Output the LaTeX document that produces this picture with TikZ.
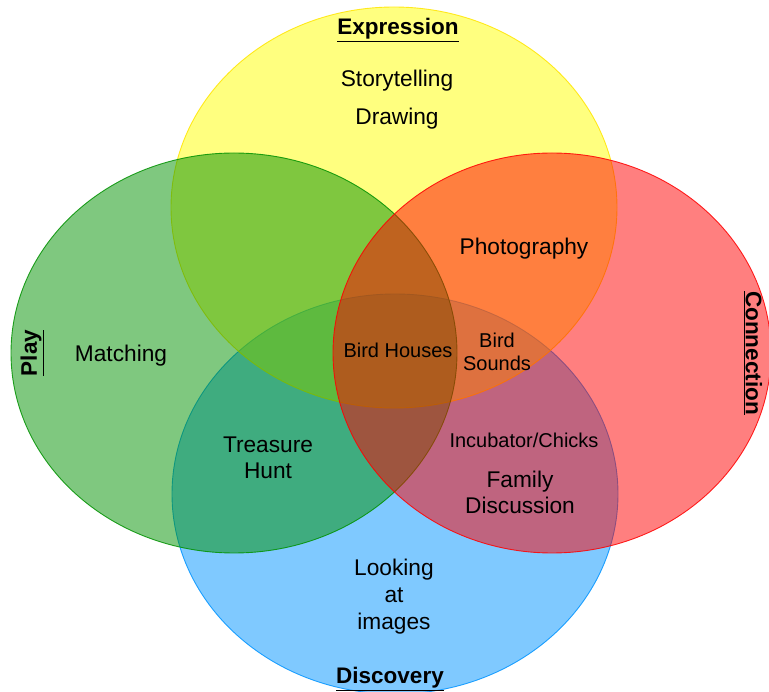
\documentclass[tikz,border=0pt]{standalone}
\usepackage{fontspec}
\setmainfont{Liberation Sans}
\begin{document}
\begin{tikzpicture}[x=1pt,y=-1pt,
  venn/.style={fill opacity=0.5,draw opacity=0.85,line width=0.9pt},
  big/.style={font=\fontsize{22.7}{26}\selectfont,align=center,inner sep=0pt},
  small/.style={font=\fontsize{20}{23}\selectfont,align=center,inner sep=0pt},
  title/.style={font=\fontsize{22.5}{26}\selectfont\bfseries,inner sep=0pt}]
\definecolor{cyel}{RGB}{255,255,0}
\definecolor{cgrn}{RGB}{0,145,0}
\definecolor{cred}{RGB}{255,0,0}
\definecolor{cblu}{RGB}{0,147,255}
\useasboundingbox (0,0) rectangle (769,692);
\clip (0,0) rectangle (769,692);
\path[venn,fill=cblu,draw=cblu] (395,494) ellipse [x radius=223, y radius=200];
\path[venn,fill=cyel,draw=cyel!80!orange] (394,207.5) ellipse [x radius=223, y radius=200.5];
\path[venn,fill=cgrn,draw=cgrn] (234,353) ellipse [x radius=223, y radius=200];
\path[venn,fill=cred,draw=cred] (552,353) ellipse [x radius=219, y radius=200];
\node[title] (expr) at (398,30) {\underline{Expression}};
\node[title] (disc) at (390,679) {\underline{Discovery}};
\node[title,rotate=-90] (conn) at (753,353) {\underline{Connection}};
\node[title,rotate=90] (play) at (32,353) {\underline{Play}};
\node[big] (story) at (397,81) {Storytelling};
\node[big] (draw) at (397,119) {Drawing};
\node[big] (photo) at (524,249) {Photography};
\node[big] (match) at (121,356) {Matching};
\node[small] (bhouse) at (398,350) {Bird Houses};
\node[small] (bsound) at (497,352) {Bird\\Sounds};
\node[big] (treas) at (268,458) {Treasure\\Hunt};
\node[small] (incub) at (524,440) {Incubator/Chicks};
\node[big] (fam) at (520,492) {Family\\Discussion};
\node[big,font=\fontsize{22.7}{27}\selectfont] (look) at (394,597) {Looking\\at\\images};
\end{tikzpicture}
\end{document}
